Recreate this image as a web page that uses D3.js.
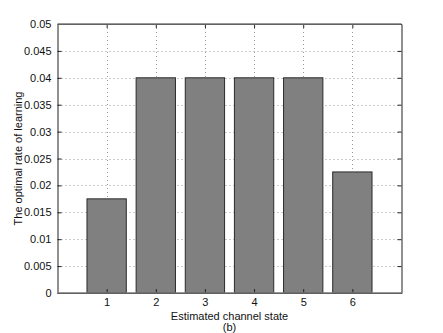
<!DOCTYPE html>
<html><head><meta charset="utf-8">
<script src="https://cdn.jsdelivr.net/npm/d3@7/dist/d3.min.js"></script>
<style>body{margin:0;background:#fff}svg{display:block}text{font-family:"Liberation Sans",Arial,sans-serif}</style>
</head><body>
<script>
const categories = [1, 2, 3, 4, 5, 6];
const values = [0.0175, 0.04, 0.04, 0.04, 0.04, 0.0225];
const yTicks = [0, 0.005, 0.01, 0.015, 0.02, 0.025, 0.03, 0.035, 0.04, 0.045, 0.05];
const yTickLabels = ["0", "0.005", "0.01", "0.015", "0.02", "0.025", "0.03", "0.035", "0.04", "0.045", "0.05"];
const xLabel = "Estimated channel state";
const subLabel = "(b)";
const yLabel = "The optimal rate of learning";

const W = 443, H = 333;
const m = {left: 57.5, right: 401.5, top: 24, bottom: 293};
const svg = d3.select("body").append("svg").attr("width", W).attr("height", H);
const x = d3.scaleLinear().domain([0, 7]).range([m.left, m.right]);
const y = d3.scaleLinear().domain([0, 0.05]).range([m.bottom, m.top]);
const bw = x(0.8) - x(0);

const g = svg.append("g");
// grid
g.selectAll(".gy").data(yTicks.slice(1, -1)).join("line")
  .attr("x1", m.left).attr("x2", m.right)
  .attr("y1", d => Math.round(y(d)) + 0.5).attr("y2", d => Math.round(y(d)) + 0.5)
  .attr("stroke", "#999").attr("stroke-dasharray", "1,3");
g.selectAll(".gx").data(categories).join("line")
  .attr("x1", d => Math.round(x(d)) + 0.5).attr("x2", d => Math.round(x(d)) + 0.5)
  .attr("y1", m.top).attr("y2", m.bottom)
  .attr("stroke", "#999").attr("stroke-dasharray", "1,3");

// bars
g.selectAll(".bar").data(values).join("rect")
  .attr("x", (d, i) => x(categories[i]) - bw / 2)
  .attr("width", bw)
  .attr("y", d => y(d))
  .attr("height", d => y(0) - y(d))
  .attr("fill", "#808080").attr("stroke", "#2a2a2a").attr("stroke-width", 1);

// axes box
const axL = d3.axisLeft(y).tickValues(yTicks).tickFormat((d, i) => yTickLabels[i]).tickSizeInner(-4).tickSizeOuter(0).tickPadding(6);
const axR = d3.axisRight(y).tickValues(yTicks).tickFormat("").tickSizeInner(-4).tickSizeOuter(0);
const axB = d3.axisBottom(x).tickValues(categories).tickFormat(d3.format("d")).tickSizeInner(-4).tickSizeOuter(0).tickPadding(5);
const axT = d3.axisTop(x).tickValues(categories).tickFormat("").tickSizeInner(-4).tickSizeOuter(0);

function style(sel) {
  sel.selectAll("path").attr("stroke", "#222");
  sel.selectAll("line").attr("stroke", "#222");
  sel.selectAll("text").attr("font-size", 11).attr("fill", "#111").attr("font-family", "Liberation Sans, Arial, sans-serif");
}
svg.append("g").attr("transform", `translate(${m.left},0)`).call(axL).call(style);
svg.append("g").attr("transform", `translate(${m.right},0)`).call(axR).call(style);
svg.append("g").attr("transform", `translate(0,${m.bottom})`).call(axB).call(style);
svg.append("g").attr("transform", `translate(0,${m.top})`).call(axT).call(style);
// baseline
svg.append("line").attr("x1", m.left).attr("x2", m.right).attr("y1", y(0)).attr("y2", y(0))
  .attr("stroke", "#777").attr("stroke-width", 1.5);
svg.append("line").attr("x1", m.left).attr("x2", m.right).attr("y1", m.top).attr("y2", m.top)
  .attr("stroke", "#777").attr("stroke-width", 1.5);

svg.append("text").attr("x", (m.left + m.right) / 2).attr("y", 320).attr("text-anchor", "middle")
  .attr("font-size", 11).attr("fill", "#111").text(xLabel);
svg.append("text").attr("x", (m.left + m.right) / 2).attr("y", 331).attr("text-anchor", "middle")
  .attr("font-size", 11).attr("fill", "#111").text(subLabel);
svg.append("text").attr("transform", `translate(22,${(m.top + m.bottom) / 2}) rotate(-90)`)
  .attr("text-anchor", "middle").attr("font-size", 11).attr("fill", "#111").text(yLabel);
</script>
</body></html>
